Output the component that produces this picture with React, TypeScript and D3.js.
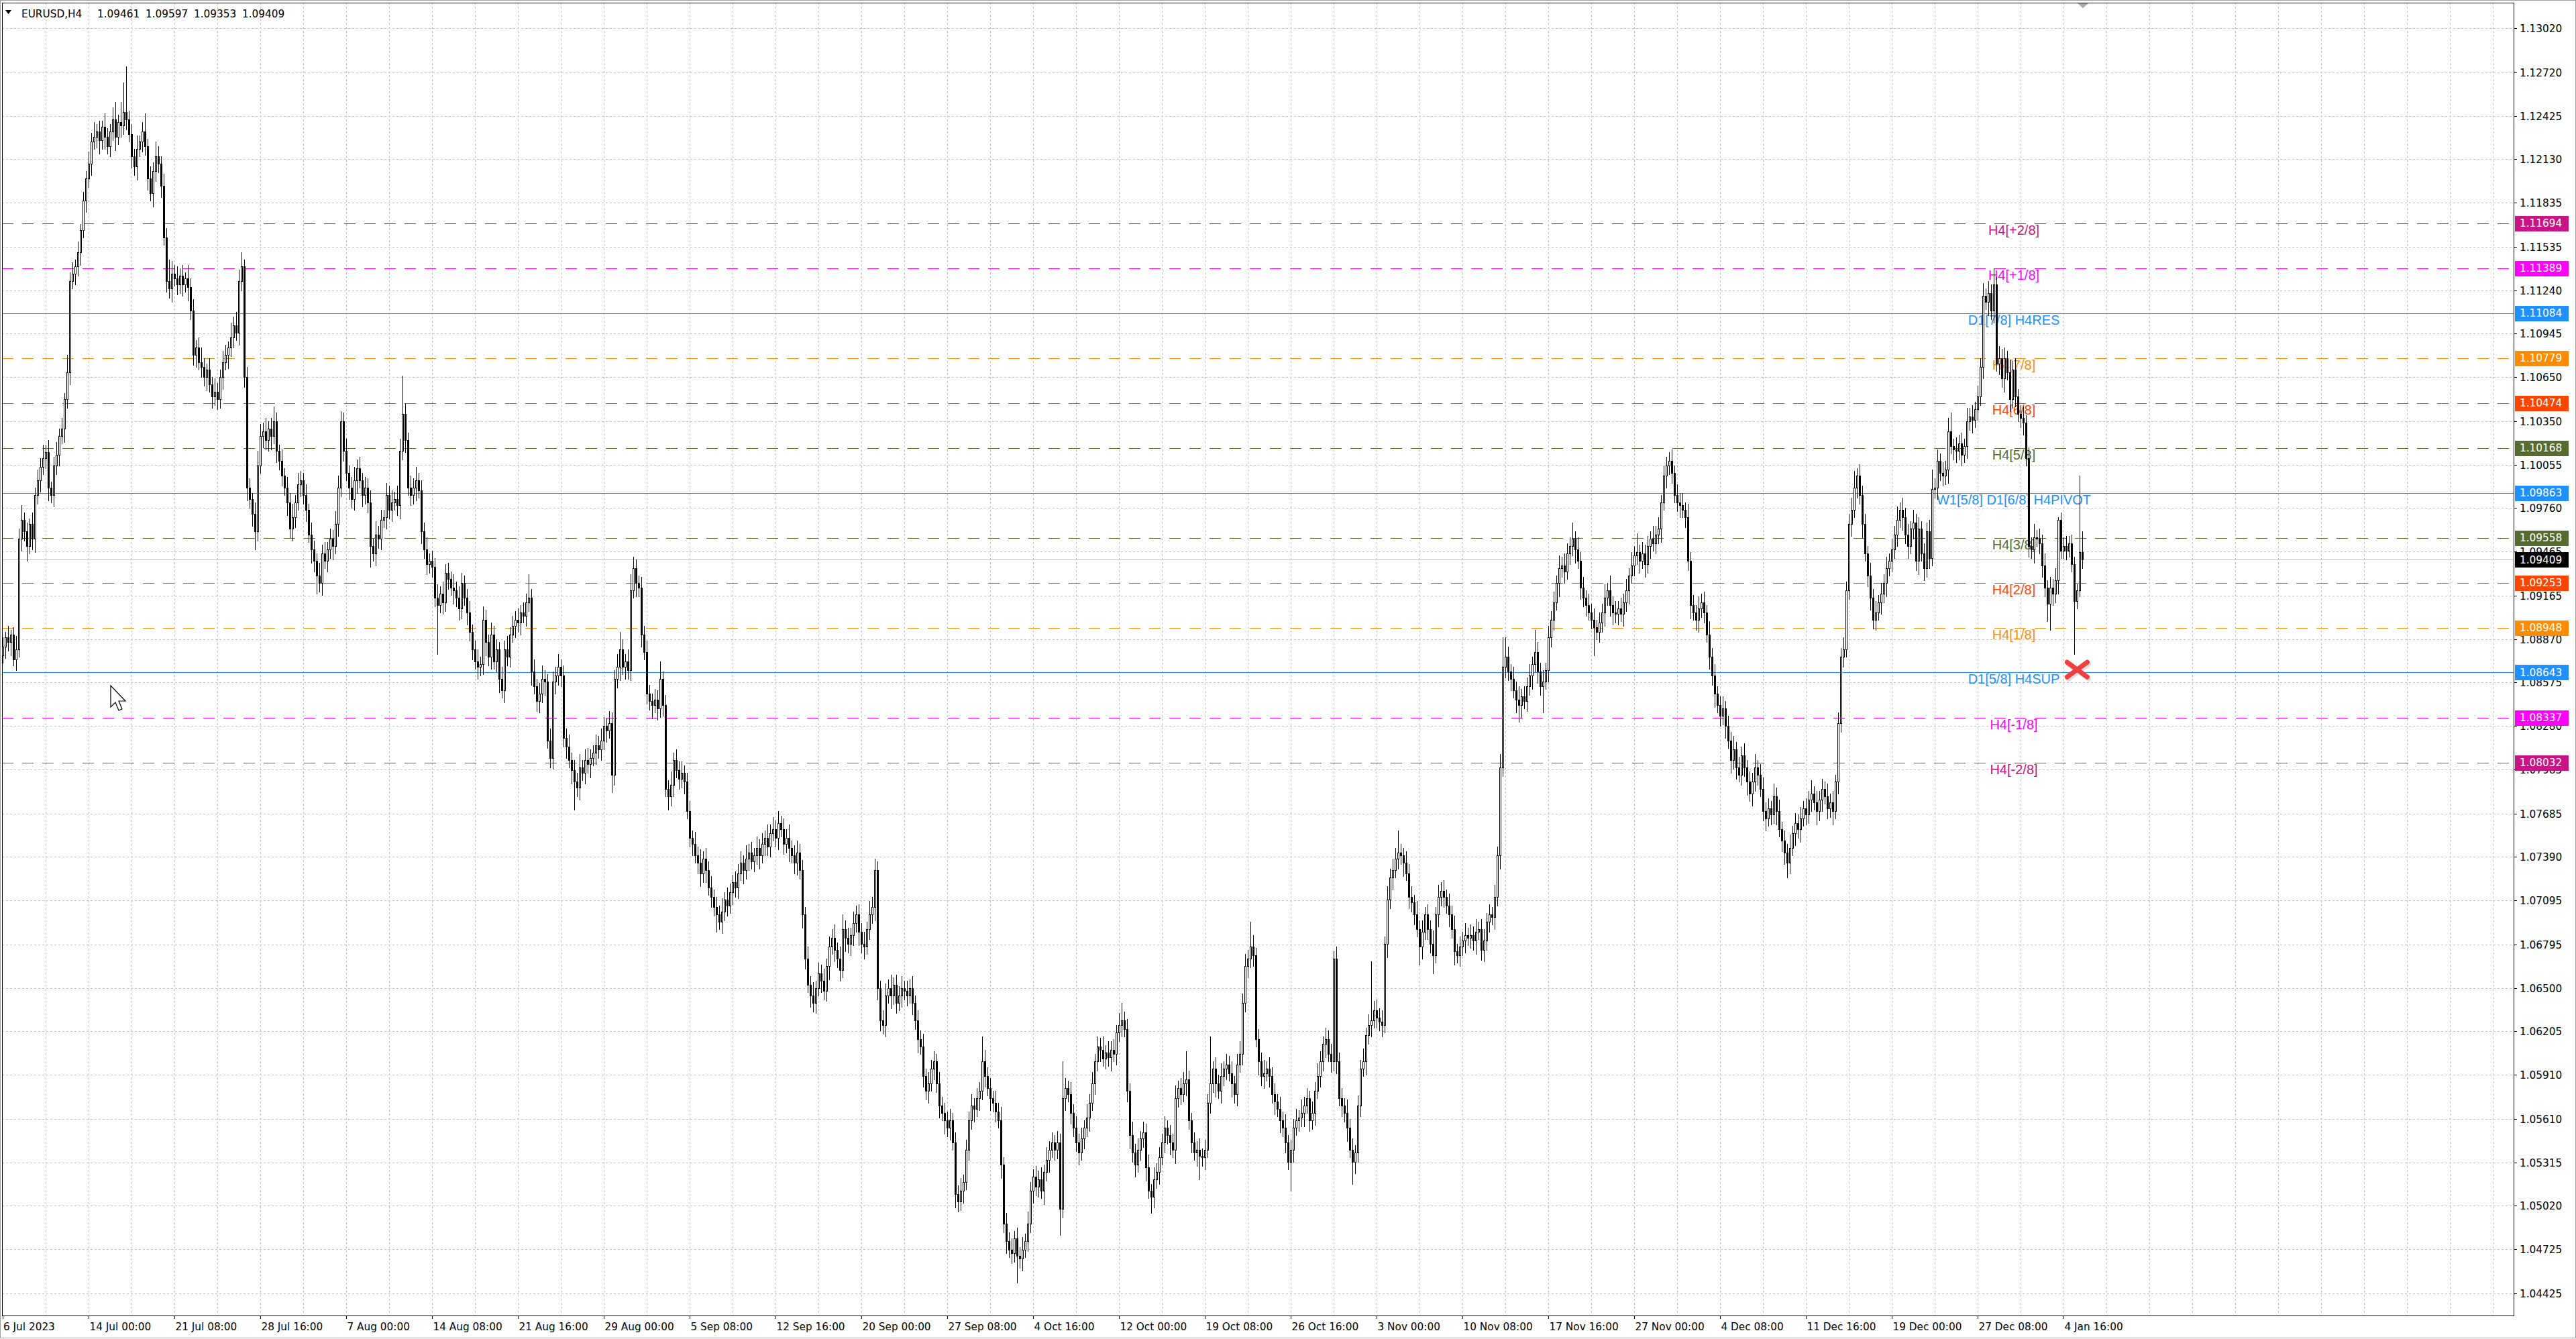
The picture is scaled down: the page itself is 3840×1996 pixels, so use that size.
import React from "react";
import * as d3 from "d3";

// ---- data (prices in pips above 1.0000) ----
const firstOpen = 876;
const closes = [
  882,888,885,890,873,880,955,968,960,950,965,955,985,995,1004,1010,
  1014,990,985,1005,1012,1025,1030,1050,1068,1130,1135,1140,1150,1165,1185,1200,
  1210,1225,1228,1232,1226,1235,1228,1222,1232,1240,1228,1238,1236,1245,1240,1230,
  1215,1208,1220,1225,1232,1222,1200,1190,1205,1215,1210,1195,1160,1130,1125,1135,
  1132,1128,1134,1128,1132,1126,1110,1080,1085,1075,1072,1065,1070,1060,1052,1055,
  1050,1065,1075,1080,1085,1092,1100,1095,1130,1140,1065,990,982,972,960,1005,
  1025,1028,1022,1030,1025,1035,1015,1008,998,990,980,962,970,980,992,995,
  985,975,958,948,940,930,925,945,940,948,955,950,965,990,1035,1015,
  1000,990,982,995,1003,995,985,990,980,950,945,958,955,968,970,985,
  975,980,982,978,1015,1040,1022,990,985,990,995,988,960,948,938,940,
  936,915,910,918,912,932,928,922,920,915,908,925,915,905,892,880,
  872,868,870,900,885,875,890,872,880,860,852,880,875,890,896,900,
  898,905,903,912,915,865,855,845,850,860,858,818,806,858,862,868,
  862,820,814,805,798,790,786,800,796,805,802,806,810,815,812,818,
  828,825,830,795,860,868,880,868,872,866,920,935,925,922,890,878,
  850,845,842,846,840,860,842,785,780,788,805,798,792,796,790,770,
  752,748,740,735,728,738,730,718,712,705,700,695,702,710,706,715,
  722,718,728,735,730,738,742,736,740,745,740,748,752,746,755,758,
  752,762,758,748,752,745,740,735,742,730,700,670,652,645,640,650,
  660,655,648,665,678,684,676,670,662,690,684,680,686,694,700,688,
  680,678,690,700,705,730,650,628,625,645,650,645,652,640,645,650,
  648,645,650,640,628,615,610,590,580,585,595,600,585,570,565,560,
  555,560,545,510,505,512,518,540,560,570,568,575,580,600,590,582,
  575,572,566,560,530,490,478,472,470,480,468,466,472,478,490,512,
  522,515,520,512,525,533,540,545,540,545,500,575,582,578,565,555,
  545,538,548,555,562,572,585,600,610,608,602,606,603,608,605,620,
  625,628,622,580,550,538,530,540,548,552,528,512,508,520,525,535,
  545,555,550,545,540,575,582,578,585,588,560,545,538,540,536,535,
  540,572,585,595,585,580,590,595,598,592,585,578,598,605,640,665,
  670,678,672,615,600,590,592,595,590,578,573,568,560,555,545,532,
  540,555,560,562,565,570,575,560,565,580,590,600,612,615,605,600,
  670,600,575,570,565,555,540,532,538,570,595,600,618,625,628,635,
  630,627,625,680,710,725,730,738,742,740,735,728,712,708,700,690,
  678,688,700,690,680,672,700,712,716,712,706,700,690,675,672,678,
  682,686,684,686,682,688,690,676,682,695,700,698,712,740,800,868,
  875,865,860,852,846,842,848,845,855,862,870,878,865,855,858,866,
  888,900,912,925,935,937,933,945,950,955,948,940,922,915,910,905,
  900,895,892,898,905,915,920,910,905,904,908,904,912,920,930,937,
  944,946,940,945,938,950,955,952,958,962,980,998,1005,1008,1000,985,
  980,978,975,970,940,910,905,900,908,912,905,890,875,862,850,842,
  835,840,828,818,805,812,800,795,808,800,790,782,790,800,795,785,
  770,765,772,768,780,770,758,750,742,735,745,755,762,758,765,772,
  768,778,782,776,770,778,785,780,772,776,770,790,830,875,880,920,
  965,975,990,998,985,965,945,930,915,900,905,912,918,925,935,940,
  948,958,968,975,970,958,950,962,966,940,962,945,935,960,942,989,
  990,1008,1000,998,1002,1028,1018,1016,1015,1020,1012,1018,1035,1038,1036,1043,
  1052,1072,1120,1116,1122,1110,1128,1074,1078,1064,1078,1068,1050,1070,1052,1040,
  1037,1034,1010,950,948,956,955,952,937,922,911,922,918,927,968,947,
  950,947,952,938,913,920,946,941,
];
const wickUp = [
  6,4,8,3,5,9,7,10,5,6,4,8,5,7,6,9,
  5,8,4,6,9,5,7,4,12,6,8,5,7,4,6,5,
  8,6,10,5,7,4,9,6,5,8,12,5,14,20,31,6,
  7,5,9,4,6,12,5,8,6,10,7,5,8,6,15,9,
  6,8,5,7,4,9,6,8,5,7,10,6,4,8,5,9,
  6,5,8,7,4,10,6,9,8,10,5,7,6,4,8,10,
  8,6,9,5,7,10,6,4,8,5,7,6,9,5,8,6,
  5,7,4,8,6,5,9,6,8,5,7,6,9,8,7,6,
  8,5,7,9,6,8,5,7,6,8,5,9,6,7,5,8,
  6,8,5,9,8,26,7,5,8,6,9,5,7,6,8,5,
  7,6,9,5,8,6,7,5,9,6,8,7,5,6,8,5,
  6,8,5,9,7,5,8,6,7,5,8,6,9,5,7,6,
  8,5,7,6,16,6,8,5,7,9,6,5,8,7,6,9,
  5,7,6,8,5,7,6,9,5,7,8,6,5,7,6,8,
  6,5,8,7,6,9,12,7,5,8,11,8,6,5,7,6,
  8,6,5,7,6,12,5,7,6,9,5,7,6,8,5,6,
  7,5,8,6,9,5,7,6,8,5,7,6,9,5,8,6,
  5,7,6,8,5,9,6,7,5,8,6,7,5,9,6,8,
  6,8,5,7,6,9,5,7,8,6,7,5,8,6,9,5,
  7,6,8,5,7,6,9,5,8,10,6,7,5,8,6,7,
  6,8,5,9,7,8,6,5,7,8,6,9,5,7,6,8,
  5,7,6,8,5,7,6,9,5,8,6,7,5,8,6,7,
  6,8,5,7,6,9,5,7,6,8,5,7,6,17,8,6,
  7,5,8,6,9,5,7,6,8,5,7,6,9,5,8,6,
  5,7,6,8,5,9,6,7,5,8,6,25,7,5,8,6,
  8,6,7,5,9,6,8,5,7,6,9,5,8,6,7,5,
  8,12,6,7,5,9,6,8,5,7,6,9,5,8,6,7,
  6,8,5,7,6,9,5,7,8,19,6,5,7,6,8,5,
  7,6,32,5,8,6,9,5,7,6,8,5,7,9,6,8,
  6,17,8,5,7,6,9,5,8,6,7,5,8,6,9,5,
  7,6,8,5,9,6,7,5,8,6,9,7,5,8,6,7,
  5,8,6,7,5,9,6,8,5,7,6,9,5,7,40,6,
  7,6,8,5,9,6,8,7,15,6,5,8,6,7,5,9,
  6,8,5,7,6,9,5,8,6,7,5,8,6,9,5,7,
  6,8,5,7,6,9,5,7,8,6,7,5,8,6,9,20,
  13,7,5,8,6,9,5,7,6,8,5,15,7,6,8,5,
  8,6,7,5,9,6,8,7,6,11,5,8,6,7,5,8,
  6,8,5,7,6,9,5,10,6,8,5,7,6,8,5,9,
  6,13,5,8,6,7,5,9,6,8,5,7,6,6,8,5,
  7,6,8,5,9,6,7,5,8,6,7,5,9,6,8,5,
  6,8,5,7,6,9,5,7,6,8,5,7,6,9,5,7,
  8,6,7,5,9,6,8,5,7,6,9,5,7,6,8,5,
  7,6,9,5,8,6,7,5,9,6,8,5,7,6,8,6,
  7,8,11,5,8,6,7,5,9,6,8,5,7,6,8,5,
  7,6,9,5,8,6,7,5,9,6,8,5,7,6,8,13,
  6,8,5,7,6,9,13,5,8,6,7,5,9,6,8,5,
  7,6,9,5,8,6,11,5,8,6,7,5,9,6,8,5,
  6,8,5,7,6,9,5,7,6,8,5,7,6,8,2,5,
  6,7,5,6,5,4,52,14,
];
const wickDn = [
  5,8,6,9,4,7,5,8,6,10,5,7,9,6,8,5,
  7,9,5,8,6,7,5,9,6,8,5,7,6,9,5,8,
  6,8,5,7,9,6,8,5,7,6,9,5,8,6,7,5,
  8,6,9,5,7,6,8,5,9,7,6,8,5,7,6,9,
  5,7,6,8,5,9,6,7,8,5,7,6,9,5,8,6,
  7,6,8,5,9,6,7,5,8,6,7,9,6,8,12,6,
  5,8,6,7,9,5,8,6,7,5,9,6,8,7,5,8,
  6,8,5,9,7,12,6,8,5,7,6,9,5,8,6,7,
  5,8,6,7,9,5,8,6,7,14,5,8,6,7,5,8,
  6,8,5,7,9,6,8,5,7,6,9,5,8,6,7,6,
  7,6,33,5,8,6,7,5,9,6,8,7,5,8,6,7,
  5,8,6,7,9,6,8,5,7,9,5,8,6,7,5,8,
  6,8,5,7,6,9,5,7,8,6,9,5,6,7,8,6,
  7,6,8,5,9,19,6,8,5,7,6,9,5,8,6,7,
  6,8,5,12,7,6,9,5,8,6,7,5,9,6,8,5,
  7,6,9,5,8,6,7,5,9,6,8,5,7,6,8,5,
  6,8,5,7,9,6,8,5,7,6,12,5,8,6,7,5,
  8,6,7,5,9,6,8,5,7,6,9,5,8,6,7,5,
  6,8,5,7,6,9,5,7,8,6,9,7,5,8,6,7,
  5,8,6,7,9,5,8,6,7,5,9,6,8,7,6,9,
  6,8,5,7,6,9,8,7,6,8,5,9,6,7,5,8,
  6,7,5,8,6,9,5,7,6,8,5,7,6,8,5,9,
  6,8,5,9,7,6,8,5,7,6,9,5,8,6,7,5,
  8,6,7,5,9,6,8,5,7,6,18,6,8,5,7,6,
  8,6,7,5,9,6,8,5,7,6,18,6,8,5,7,6,
  6,8,5,7,6,9,5,7,6,8,5,7,6,9,5,7,
  6,8,5,7,9,6,8,5,7,6,9,5,11,7,6,8,
  5,7,6,8,5,9,6,7,5,8,6,7,5,9,16,6,
  8,5,7,6,9,5,8,6,7,5,9,6,8,5,7,6,
  8,6,7,5,9,6,8,5,7,6,9,5,8,6,7,5,
  20,8,5,7,6,9,5,7,6,8,5,7,6,9,5,7,
  6,8,5,7,6,9,5,15,8,6,7,5,9,6,8,5,
  7,6,8,5,9,6,8,5,7,6,9,5,8,6,7,5,
  12,8,5,7,6,12,5,8,6,7,5,8,6,9,5,7,
  6,8,5,7,6,9,5,7,8,6,7,5,8,6,9,6,
  7,6,8,5,9,11,8,5,7,6,9,5,8,6,18,5,
  8,6,7,5,9,6,8,5,7,6,9,5,8,6,7,5,
  6,19,5,7,6,9,5,7,8,6,7,5,8,6,9,5,
  7,6,8,5,9,6,8,5,7,6,9,5,8,6,7,5,
  6,8,5,7,6,9,5,7,8,6,7,5,8,6,9,5,
  7,6,8,5,9,6,8,5,7,6,9,5,8,6,7,5,
  6,8,5,7,6,9,5,7,8,10,7,5,8,6,9,5,
  7,6,8,5,9,6,8,5,7,6,9,5,8,6,7,5,
  6,8,5,7,6,9,5,7,8,6,7,5,8,6,9,5,
  7,6,8,5,9,6,8,5,7,6,9,5,8,6,7,5,
  6,8,5,7,6,9,5,7,8,6,7,5,8,6,9,5,
  7,6,8,5,9,6,8,5,7,6,9,5,8,6,7,5,
  6,8,5,7,6,9,5,7,8,6,12,18,8,6,9,5,
  5,6,4,5,36,5,4,6,
];

const priceTicks = [
  1.1302, 1.1272, 1.12425, 1.1213, 1.11835, 1.11535, 1.1124, 1.10945, 1.1065, 1.1035,
  1.10055, 1.0976, 1.09465, 1.09165, 1.0887, 1.08575, 1.0828, 1.07985, 1.07685, 1.0739,
  1.07095, 1.06795, 1.065, 1.06205, 1.0591, 1.0561, 1.05315, 1.0502, 1.04725, 1.04425,
];
const timeLabels = [
  "6 Jul 2023", "14 Jul 00:00", "21 Jul 08:00", "28 Jul 16:00", "7 Aug 00:00", "14 Aug 08:00",
  "21 Aug 16:00", "29 Aug 00:00", "5 Sep 08:00", "12 Sep 16:00", "20 Sep 00:00", "27 Sep 08:00",
  "4 Oct 16:00", "12 Oct 00:00", "19 Oct 08:00", "26 Oct 16:00", "3 Nov 00:00", "10 Nov 08:00",
  "17 Nov 16:00", "27 Nov 00:00", "4 Dec 08:00", "11 Dec 16:00", "19 Dec 00:00", "27 Dec 08:00",
  "4 Jan 16:00",
];
const barsPerLabel = 32;
const barsPerGrid = 16;

const levelPrices = [1.11694, 1.11389, 1.11084, 1.10779, 1.10474, 1.10168, 1.09863, 1.09558, 1.09253, 1.08948, 1.08643, 1.08337, 1.08032];
const levelNames = ["H4[+2/8]", "H4[+1/8]", "D1[7/8] H4RES", "H4[7/8]", "H4[6/8]", "H4[5/8]", "W1[5/8] D1[6/8] H4PIVOT", "H4[3/8]", "H4[2/8]", "H4[1/8]", "D1[5/8] H4SUP", "H4[-1/8]", "H4[-2/8]"];

const symbol = "EURUSD,H4";
const headerValues = ["1.09461", "1.09597", "1.09353", "1.09409"];
const currentPrice = 1.09409;

// ---- styles ----
const levelColor: Record<string, string> = {
  "H4[+2/8]": "#C71585", "H4[+1/8]": "#FF00FF", "D1[7/8] H4RES": "#1E90FF", "H4[7/8]": "#FF8C00",
  "H4[6/8]": "#FF4500", "H4[5/8]": "#556B2F", "W1[5/8] D1[6/8] H4PIVOT": "#1E90FF", "H4[3/8]": "#556B2F",
  "H4[2/8]": "#FF4500", "H4[1/8]": "#FF8C00", "D1[5/8] H4SUP": "#1E90FF", "H4[-1/8]": "#FF00FF", "H4[-2/8]": "#C71585",
};
const solidLevels = new Set(["D1[7/8] H4RES", "W1[5/8] D1[6/8] H4PIVOT", "D1[5/8] H4SUP"]);

const W = 3840, H = 1996;
const plotL = 3, plotT = 4, plotR = 3747, plotB = 1961;
const axisFont = "'DejaVu Sans', Verdana, sans-serif";
const labelFont = "'Liberation Sans', Arial, sans-serif";

export default function App() {
  const x = d3.scaleLinear().domain([0, 1]).range([4, 8]);
  const y = d3.scaleLinear().domain([1.04425, 1.1302]).range([1928, 42]);
  const P = (p: number) => 1 + p / 10000;
  const fmt = d3.format(".5f");

  const bars = closes.map((c, i) => {
    const o = i === 0 ? firstOpen : closes[i - 1];
    return { i, o: P(o), c: P(c), h: P(Math.max(o, c) + wickUp[i]), l: P(Math.min(o, c) - wickDn[i]) };
  });

  const gridXs: number[] = [];
  for (let k = 1; x(k * barsPerGrid) < plotR; k++) gridXs.push(Math.round(x(k * barsPerGrid)) + 0.5);

  const labelX = x(749.5);
  const markX = x(773.1);
  const markY = y(1.08663);

  return (
    <svg width={W} height={H} style={{ position: "absolute", left: 0, top: 0, background: "#fff" }}>
      <rect x={0.5} y={0.5} width={W - 1} height={H - 2} fill="#fff" stroke="#A0A0A0" />
      {/* grid */}
      <g stroke="#C4C4C4" strokeWidth={1} strokeDasharray="3,3" shapeRendering="crispEdges">
        {gridXs.map((gx) => <line key={"gx" + gx} x1={gx} x2={gx} y1={plotT} y2={plotB} />)}
        {priceTicks.map((p) => {
          const py = Math.round(y(p)) + 0.5;
          return <line key={"gy" + p} x1={plotL} x2={plotR} y1={py} y2={py} />;
        })}
      </g>
      {/* level lines */}
      <g shapeRendering="crispEdges">
        {levelPrices.map((p, k) => {
          const py = Math.round(y(p)) + 0.5;
          const name = levelNames[k];
          return (
            <line key={"lv" + k} x1={plotL} x2={plotR} y1={py} y2={py} stroke={levelColor[name]} strokeWidth={1}
              strokeDasharray={solidLevels.has(name) ? undefined : "17,13"} />
          );
        })}
        <line x1={plotL} x2={plotR} y1={Math.round(y(currentPrice)) + 0.5} y2={Math.round(y(currentPrice)) + 0.5} stroke="#C0C0C0" />
      </g>
      {/* level texts */}
      <g fontFamily={labelFont} fontSize={20} textAnchor="middle">
        {levelPrices.map((p, k) => (
          <text key={"lt" + k} x={labelX} y={y(p) + 17} fill={levelColor[levelNames[k]]}>{levelNames[k]}</text>
        ))}
      </g>
      {/* candles */}
      <g shapeRendering="crispEdges">
        {bars.map((b) => {
          const cx = Math.round(x(b.i));
          const yt = Math.round(y(Math.max(b.o, b.c)));
          const yb = Math.round(y(Math.min(b.o, b.c)));
          const bull = b.c > b.o;
          return (
            <g key={"c" + b.i}>
              <line x1={cx + 0.5} x2={cx + 0.5} y1={Math.round(y(b.h))} y2={Math.round(y(b.l)) + 1} stroke="#000" />
              {yb - yt < 1 ? (
                <line x1={cx - 1} x2={cx + 2} y1={yt + 0.5} y2={yt + 0.5} stroke="#000" />
              ) : (
                <rect x={cx - 0.5} y={yt + 0.5} width={2} height={yb - yt} fill={bull ? "#fff" : "#000"} stroke="#000" />
              )}
            </g>
          );
        })}
      </g>
      {/* red cross */}
      <g strokeLinecap="round" strokeWidth={7}>
        <g stroke="#999" opacity={0.35} transform="translate(2,3)">
          <line x1={markX - 15} y1={markY - 11} x2={markX + 15} y2={markY + 11} />
          <line x1={markX - 15} y1={markY + 11} x2={markX + 15} y2={markY - 11} />
        </g>
        <line x1={markX - 15} y1={markY - 11} x2={markX + 15} y2={markY + 11} stroke="#EE3F3F" />
        <line x1={markX - 15} y1={markY + 11} x2={markX + 15} y2={markY - 11} stroke="#EE3F3F" />
      </g>
      {/* mouse cursor */}
      <path d="M165,1022 L165,1054 L172,1047 L177,1059 L182,1057 L177,1045 L187,1045 Z" fill="#fff" stroke="#000" strokeWidth={1.2} />
      {/* frame */}
      <rect x={plotL + 0.5} y={plotT + 0.5} width={plotR - plotL} height={plotB - plotT} fill="none" stroke="#000" shapeRendering="crispEdges" />
      {/* shift marker */}
      <path d="M3097,5 L3113,5 L3105,12 Z" fill="#A8A8A8" />
      {/* header */}
      <path d="M8,15 L17,15 L12.5,21 Z" fill="#000" />
      <g fontFamily={axisFont} fontSize={15.3} fill="#000">
        <text x={32} y={26}>{symbol}</text>
        {headerValues.map((v, k) => <text key={"hv" + k} x={145 + k * 72} y={26}>{v}</text>)}
      </g>
      {/* price axis */}
      <g fontFamily={axisFont} fontSize={15.3} fill="#000">
        {priceTicks.map((p) => {
          const py = Math.round(y(p)) + 0.5;
          return (
            <g key={"pt" + p}>
              <line x1={plotR} x2={plotR + 5} y1={py} y2={py} stroke="#000" shapeRendering="crispEdges" />
              <text x={3756} y={py} dominantBaseline="central">{fmt(p)}</text>
            </g>
          );
        })}
      </g>
      {/* price boxes */}
      <g fontFamily={axisFont} fontSize={15.3}>
        {levelPrices.map((p, k) => {
          const py = y(p);
          return (
            <g key={"pb" + k}>
              <rect x={3749} y={Math.round(py) - 11} width={80} height={23} fill={levelColor[levelNames[k]]} />
              <text x={3756} y={py + 0.5} dominantBaseline="central" fill="#fff">{fmt(p)}</text>
            </g>
          );
        })}
        <rect x={3749} y={Math.round(y(currentPrice)) - 11} width={80} height={23} fill="#000" />
        <text x={3756} y={y(currentPrice) + 0.5} dominantBaseline="central" fill="#fff">{fmt(currentPrice)}</text>
      </g>
      {/* time axis */}
      <g fontFamily={axisFont} fontSize={15.3} fill="#000">
        {timeLabels.map((t, k) => {
          const tx = Math.round(x(k * barsPerLabel)) + 0.5;
          return (
            <g key={"tl" + k}>
              <line x1={tx} x2={tx} y1={plotB} y2={plotB + 5} stroke="#000" shapeRendering="crispEdges" />
              <text x={k === 0 ? 5 : tx + 1} y={1983}>{t}</text>
            </g>
          );
        })}
      </g>
    </svg>
  );
}
